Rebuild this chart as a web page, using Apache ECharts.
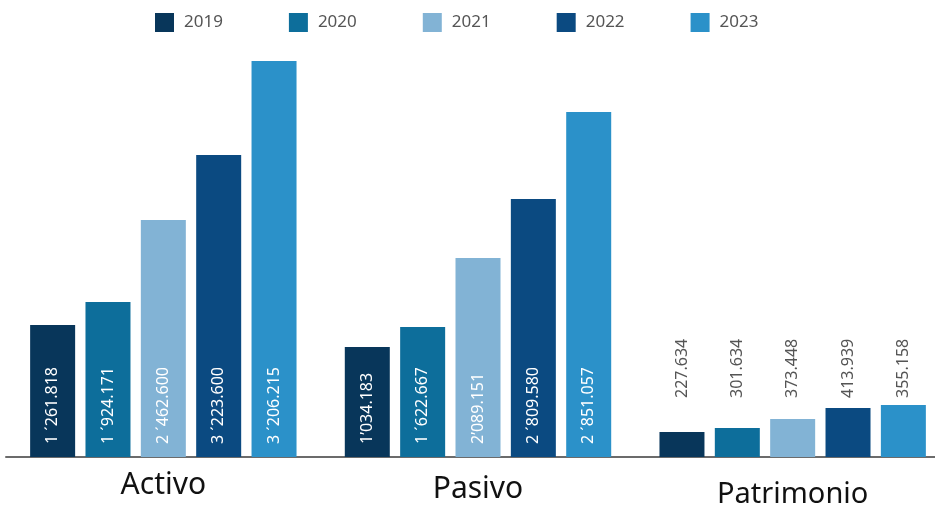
<!DOCTYPE html>
<html><head><meta charset="utf-8">
<script src="https://cdn.jsdelivr.net/npm/echarts@6/dist/echarts.min.js"></script>
<style>html,body{margin:0;padding:0;background:#fff}#c{width:935px;height:506px}</style>
</head><body><div id="c"></div>
<script>
const categories = ['Activo', 'Pasivo', 'Patrimonio'];
const years = ['2019', '2020', '2021', '2022', '2023'];
// bar heights (thousands)
const activo = [1266, 1487, 2273, 2897, 3799];
const pasivo = [1055, 1247, 1909, 2475, 3309];
const patrimonio = [240, 278, 365, 470, 499];
// printed labels
const activoLabels = ['1 ´261.818', '1 ´924.171', '2 ´462.600', '3 ´223.600', '3 ´206.215'];
const pasivoLabels = ['1’034.183', '1 ´622.667', '2’089.151', '2 ´809.580', '2 ´851.057'];
const patrimonioLabels = ['227.634', '301.634', '373.448', '413.939', '355.158'];

const colors = ['#08365A', '#0D6E9B', '#82B3D5', '#0B4A81', '#2B91C9'];
const FONT = '"Noto Sans", sans-serif';

const values = [activo, pasivo, patrimonio];
const labels = [activoLabels, pasivoLabels, patrimonioLabels];

const series = years.map((y, yi) => ({
  name: y,
  type: 'bar',
  barWidth: 45,
  barGap: '23%',
  itemStyle: { color: colors[yi] },
  data: categories.map((c, ci) => ({
    value: values[ci][yi],
    label: {
      show: true,
      position: 'insideBottom',
      rotate: 90,
      align: 'left',
      verticalAlign: 'middle',
      distance: ci === 2 ? 59 : 13,
      color: ci === 2 ? '#555555' : '#ffffff',
      fontSize: 16,
      fontFamily: FONT,
      formatter: labels[ci][yi]
    }
  }))
}));

const chart = echarts.init(document.getElementById('c'), null, { renderer: 'canvas' });
chart.setOption({
  animation: false,
  color: colors,
  legend: {
    top: 8,
    left: 150,
    itemWidth: 19,
    itemHeight: 19,
    itemGap: 66,
    icon: 'rect',
    textStyle: { fontSize: 17, color: '#555555', fontFamily: FONT, padding: [0, 0, 0, 5] },
    data: years
  },
  grid: { left: 6, width: 944, top: 40, bottom: 49, outerBoundsMode: 'none' },
  xAxis: {
    type: 'category',
    data: categories,
    axisTick: { show: false },
    axisLine: { lineStyle: { color: '#6b6b6b', width: 2 } },
    axisLabel: {
      margin: 13,
      fontFamily: FONT,
      fontSize: 30,
      color: '#111111',
      formatter: (v, i) => '{c' + i + '|' + v + '}',
      rich: {
        c0: { fontSize: 30, fontFamily: FONT, color: '#111', padding: [0, 0, 0, 0] },
        c1: { fontSize: 30, fontFamily: FONT, color: '#111', padding: [4, 0, 0, 0] },
        c2: { fontSize: 29, fontFamily: FONT, color: '#111', padding: [10, 0, 0, 0] }
      }
    }
  },
  yAxis: { type: 'value', min: 0, max: 4000, show: false, splitLine: { show: false } },
  series: series
});
</script>
</body></html>
